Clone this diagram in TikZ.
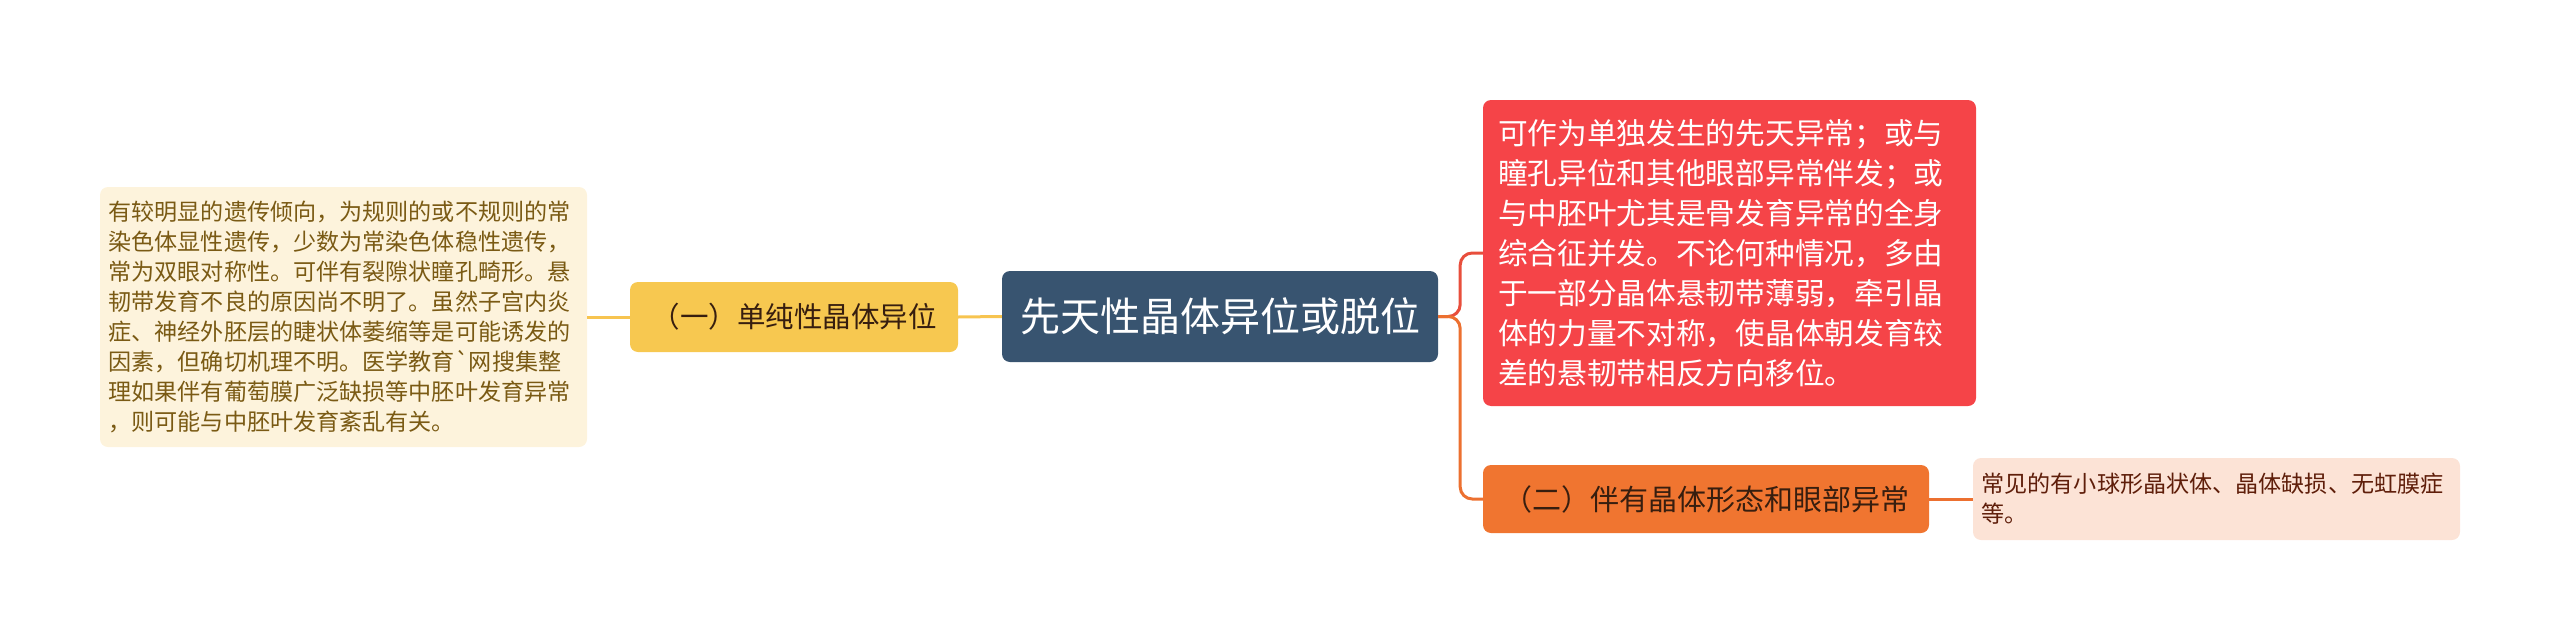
\documentclass[tikz,border=0pt]{standalone}
\usepackage{fontspec}
\newfontfamily\cjk{Noto Sans CJK SC}
\definecolor{cbg}{RGB}{56,84,112}
\definecolor{ybg}{RGB}{247,200,80}
\definecolor{lbg}{RGB}{253,243,220}
\definecolor{ltx}{RGB}{122,90,20}
\definecolor{rbg}{RGB}{245,68,72}
\definecolor{obg}{RGB}{240,117,48}
\definecolor{otx}{RGB}{55,30,15}
\definecolor{pbg}{RGB}{252,227,214}
\definecolor{ptx}{RGB}{95,30,10}
\definecolor{yline}{RGB}{247,196,80}
\definecolor{rline}{RGB}{232,78,60}
\definecolor{oline}{RGB}{236,112,48}
\tikzset{
  box/.style={rounded corners=8pt, inner sep=0pt, font=\cjk},
  conn/.style={line width=3pt, rounded corners=12pt},
}
\begin{document}
\begin{tikzpicture}[x=1pt,y=-1pt]
\useasboundingbox (0,0) rectangle (2560,640);
\node[box, fill=cbg, text=white, minimum width=436pt, minimum height=91pt,
  font=\cjk\fontsize{40}{48}\selectfont] (c) at (1220,316.5) {先天性晶体异位或脱位};
\node[box, fill=ybg, text=otx, minimum width=328pt, minimum height=70pt,
  font=\cjk\fontsize{28.5}{34}\selectfont] (y) at (794,317) {（一）单纯性晶体异位};
\node[box, fill=lbg, text=ltx, minimum width=487pt, minimum height=260pt,
  text width=470pt, align=left, inner xsep=8pt,
  font=\cjk\fontsize{23.1}{30}\selectfont] (l) at (343.5,317) {有较明显的遗传倾向，为规则的或不规则的常\\染色体显性遗传，少数为常染色体稳性遗传，\\常为双眼对称性。可伴有裂隙状瞳孔畸形。悬\\韧带发育不良的原因尚不明了。虽然子宫内炎\\症、神经外胚层的睫状体萎缩等是可能诱发的\\因素，但确切机理不明。医学教育\textasciigrave 网搜集整\\理如果伴有葡萄膜广泛缺损等中胚叶发育异常\\，则可能与中胚叶发育紊乱有关。};
\node[box, fill=rbg, text=white, minimum width=493pt, minimum height=306pt,
  text width=463pt, align=left, inner xsep=15pt,
  font=\cjk\fontsize{29.7}{40}\selectfont] (r) at (1729.5,253) {可作为单独发生的先天异常；或与\\瞳孔异位和其他眼部异常伴发；或\\与中胚叶尤其是骨发育异常的全身\\综合征并发。不论何种情况，多由\\于一部分晶体悬韧带薄弱，牵引晶\\体的力量不对称，使晶体朝发育较\\差的悬韧带相反方向移位。};
\node[box, fill=obg, text=otx, minimum width=446pt, minimum height=68pt,
  font=\cjk\fontsize{29}{34}\selectfont] (o) at (1706,499) {（二）伴有晶体形态和眼部异常};
\node[box, fill=pbg, text=ptx, minimum width=487pt, minimum height=82pt,
  text width=470pt, align=left, inner xsep=8pt,
  font=\cjk\fontsize{23.1}{30}\selectfont] (p) at (2216.5,499) {常见的有小球形晶状体、晶体缺损、无虹膜症\\等。};
\draw[conn, yline] (c.west) -- (y.east);
\draw[conn, yline] (y.west) -- (l.east);
\draw[conn, rline] (c.east) -- ++(22,0) |- (r.west);
\draw[conn, oline] (c.east) -- ++(22,0) |- (o.west);
\draw[conn, oline] (o.east) -- (p.west);
\end{tikzpicture}
\end{document}
